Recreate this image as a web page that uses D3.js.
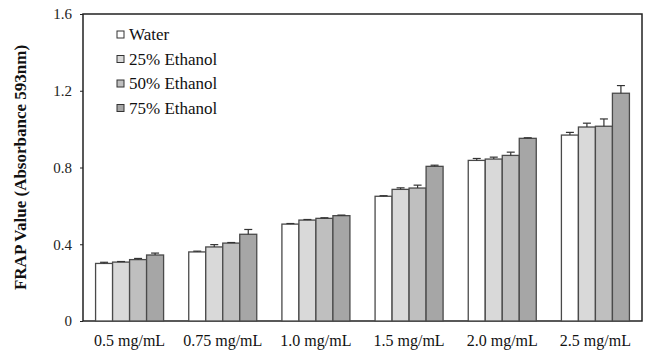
<!DOCTYPE html>
<html>
<head>
<meta charset="utf-8">
<script src="https://cdn.jsdelivr.net/npm/d3@7"></script>
<style>
  body { margin: 0; background: #fff; }
</style>
</head>
<body>
<div id="graph"></div>
<script>
// data
const categories = ["0.5 mg/mL", "0.75 mg/mL", "1.0 mg/mL", "1.5 mg/mL", "2.0 mg/mL", "2.5 mg/mL"];
const seriesNames = ["Water", "25% Ethanol", "50% Ethanol", "75% Ethanol"];
const water   = [0.300, 0.360, 0.505, 0.650, 0.837, 0.969];
const eth25   = [0.307, 0.386, 0.526, 0.686, 0.844, 1.011];
const eth50   = [0.320, 0.406, 0.535, 0.693, 0.863, 1.015];
const eth75   = [0.344, 0.452, 0.549, 0.806, 0.952, 1.187];
const waterErr = [0.006, 0.004, 0.003, 0.003, 0.010, 0.014];
const eth25Err = [0.003, 0.012, 0.003, 0.008, 0.010, 0.020];
const eth50Err = [0.006, 0.003, 0.003, 0.015, 0.017, 0.038];
const eth75Err = [0.010, 0.025, 0.003, 0.006, 0.003, 0.040];
const yTicks = [0, 0.4, 0.8, 1.2, 1.6];
const colors = ["#ffffff", "#d9d9d9", "#bfbfbf", "#a6a6a6"];

const values = [water, eth25, eth50, eth75];
const errors = [waterErr, eth25Err, eth50Err, eth75Err];
const serif = "'Liberation Serif', 'Times New Roman', serif";

const W = 648, H = 353;
const margin = {top: 14, right: 6, bottom: 32, left: 83};
const innerW = W - margin.left - margin.right;
const innerH = H - margin.top - margin.bottom;

const svg = d3.select("#graph").append("svg").attr("width", W).attr("height", H)
  .style("font-family", serif);
const g = svg.append("g").attr("transform", "translate(" + margin.left + "," + margin.top + ")");

const x0 = d3.scaleBand().domain(categories).range([0, innerW]).paddingInner(0.27).paddingOuter(0.135);
const x1 = d3.scaleBand().domain(seriesNames).range([0, x0.bandwidth()]);
const y = d3.scaleLinear().domain([0, 1.6]).range([innerH, 0]);

// rows: one per category & series
const rows = [];
categories.forEach((c, i) => {
  seriesNames.forEach((s, j) => {
    rows.push({cat: c, ser: s, j: j, v: values[j][i], e: errors[j][i]});
  });
});

// frame
g.append("rect").attr("x", 0).attr("y", 0).attr("width", innerW).attr("height", innerH)
  .attr("fill", "none").attr("stroke", "#222").attr("stroke-width", 1.5);

// bars
g.append("g").selectAll("rect").data(rows).join("rect")
  .attr("x", d => x0(d.cat) + x1(d.ser))
  .attr("y", d => y(d.v))
  .attr("width", x1.bandwidth())
  .attr("height", d => innerH - y(d.v))
  .attr("fill", d => colors[d.j])
  .attr("stroke", "#4a4a4a")
  .attr("stroke-width", 1.3);

// error bars (upper half visible)
const eb = g.append("g").attr("stroke", "#333").attr("stroke-width", 1.2);
eb.selectAll("line.v").data(rows).join("line").attr("class", "v")
  .attr("x1", d => x0(d.cat) + x1(d.ser) + x1.bandwidth() / 2)
  .attr("x2", d => x0(d.cat) + x1(d.ser) + x1.bandwidth() / 2)
  .attr("y1", d => y(d.v))
  .attr("y2", d => y(d.v + d.e));
eb.selectAll("line.c").data(rows).join("line").attr("class", "c")
  .attr("x1", d => x0(d.cat) + x1(d.ser) + x1.bandwidth() / 2 - 4)
  .attr("x2", d => x0(d.cat) + x1(d.ser) + x1.bandwidth() / 2 + 4)
  .attr("y1", d => y(d.v + d.e))
  .attr("y2", d => y(d.v + d.e));

// y axis
const yAxis = g.append("g")
  .call(d3.axisLeft(y).tickValues(yTicks).tickSize(3).tickPadding(8).tickFormat(d => d === 0 ? "0" : d3.format(".1f")(d)));
yAxis.attr("font-family", serif);
yAxis.select(".domain").remove();
yAxis.selectAll("line").attr("stroke", "#222");
yAxis.selectAll("text").attr("font-size", 15).attr("fill", "#222");

// x axis labels
const xAxis = g.append("g").attr("transform", "translate(0," + innerH + ")")
  .call(d3.axisBottom(x0).tickSize(0).tickPadding(14));
xAxis.attr("font-family", serif);
xAxis.select(".domain").remove();
xAxis.selectAll("text").attr("font-size", 16).attr("fill", "#111");

// y title
svg.append("text")
  .attr("transform", "translate(26," + (margin.top + innerH / 2) + ") rotate(-90)")
  .attr("text-anchor", "middle")
  .attr("font-family", serif)
  .attr("font-size", 17)
  .attr("font-weight", "bold")
  .attr("fill", "#111")
  .text("FRAP Value (Absorbance 593nm)");

// legend
const legend = svg.append("g").attr("transform", "translate(117,31)");
const li = legend.selectAll("g").data(seriesNames).join("g")
  .attr("transform", (d, i) => "translate(0," + (i * 24.5) + ")");
li.append("rect").attr("width", 7).attr("height", 7)
  .attr("fill", (d, i) => colors[i]).attr("stroke", "#333").attr("stroke-width", 1);
li.append("text").attr("x", 12).attr("y", 9)
  .attr("font-family", serif)
  .attr("font-size", 17).attr("fill", "#111")
  .text(d => d);
</script>
</body>
</html>
